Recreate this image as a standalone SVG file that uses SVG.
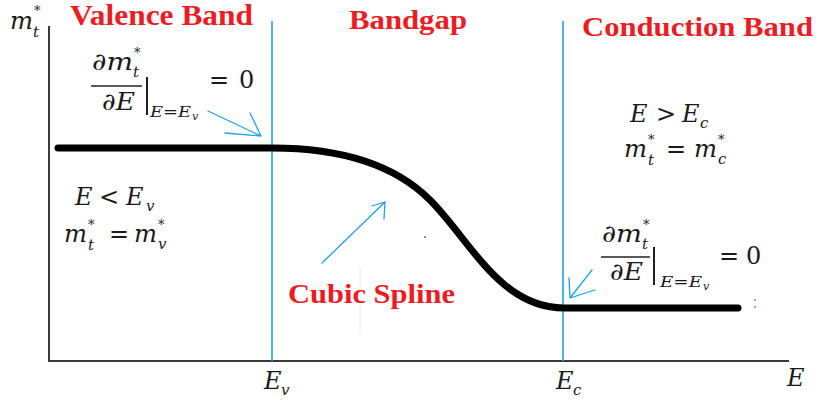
<svg xmlns="http://www.w3.org/2000/svg" width="817" height="402" viewBox="0 0 817 402">
<style>
.ax{stroke:#3a3a3a;stroke-width:2;fill:none}
.bl{stroke:#1fa3e4;stroke-width:1.6;fill:none}
.ar{stroke:#1fa3e4;stroke-width:1.3;fill:none;stroke-linecap:round}
.curve{stroke:#000;stroke-width:7;fill:none;stroke-linecap:round;stroke-linejoin:round}
.ttl{font-family:"Liberation Serif","Times New Roman",serif;font-weight:bold;fill:#ed1c24}
.mi{font-family:"DejaVu Serif",serif;font-style:italic;fill:#1a1a1a;font-size:24px}
.mu{font-family:"DejaVu Serif",serif;fill:#1a1a1a;font-size:24px}
.sb{font-size:15px}
.st{font-size:13px;font-style:normal}
.s14{font-size:14px}
.s11{font-size:11px}
.fl{stroke:#222;stroke-width:1.5}
.bar{stroke:#222;stroke-width:2}
</style>
<rect width="817" height="402" fill="#fff"/>

<g id="axes">
  <line class="ax" x1="49" y1="26" x2="49" y2="361"/>
  <line class="ax" x1="48" y1="361" x2="789" y2="361"/>
  <line x1="360" y1="267" x2="360" y2="335" stroke="#ececec" stroke-width="1"/>
</g>

<g id="boundaries">
  <line class="bl" x1="272" y1="21" x2="272" y2="361"/>
  <line class="bl" x1="563" y1="21" x2="563" y2="361"/>
</g>

<g id="curve">
  <path class="curve" d="M58,148 L272,148 C330,148 390,160 430,200 C470,240 500,308 564,308 L738,308"/>
  <circle cx="425" cy="237" r="0.8" fill="#000"/>
</g>

<g id="titles">
  <text class="ttl" x="70" y="25" font-size="29" textLength="183" lengthAdjust="spacingAndGlyphs">Valence Band</text>
  <text class="ttl" x="349" y="29" font-size="28" textLength="118" lengthAdjust="spacingAndGlyphs">Bandgap</text>
  <text class="ttl" x="582" y="36" font-size="27" textLength="231" lengthAdjust="spacingAndGlyphs">Conduction Band</text>
</g>

<g id="label-cubic-spline">
  <text class="ttl" x="288" y="303" font-size="28" textLength="167" lengthAdjust="spacingAndGlyphs">Cubic Spline</text>
</g>

<g id="y-label">
  <text class="mi" x="10" y="29" textLength="23" lengthAdjust="spacingAndGlyphs">m</text>
  <text class="mi sb" x="33" y="37">t</text>
  <text class="mi st" x="34" y="15">*</text>
</g>

<g id="x-labels">
  <text class="mi" x="264" y="389">E</text>
  <text class="mi sb" x="281" y="395">v</text>
  <text class="mi" x="556" y="389">E</text>
  <text class="mi sb" x="573" y="395">c</text>
  <text class="mi" x="787" y="386">E</text>
</g>

<g id="valence-condition">
  <text class="mi" x="75" y="205">E</text>
  <text class="mu" x="99" y="205">&lt;</text>
  <text class="mi" x="126" y="205">E</text>
  <text class="mi sb" x="146" y="211">v</text>
  <text class="mi" x="64" y="242" textLength="23" lengthAdjust="spacingAndGlyphs">m</text>
  <text class="mi sb" x="88" y="250">t</text>
  <text class="mi st" x="88" y="229">*</text>
  <text class="mu" x="109" y="242">=</text>
  <text class="mi" x="134" y="242" textLength="23" lengthAdjust="spacingAndGlyphs">m</text>
  <text class="mi st" x="158" y="229">*</text>
  <text class="mi sb" x="158" y="249">v</text>
</g>

<g id="conduction-condition">
  <text class="mi" x="630" y="122">E</text>
  <text class="mu" x="656" y="122">&gt;</text>
  <text class="mi" x="682" y="122">E</text>
  <text class="mi sb" x="700" y="128">c</text>
  <text class="mi" x="624" y="157" textLength="23" lengthAdjust="spacingAndGlyphs">m</text>
  <text class="mi sb" x="648" y="165">t</text>
  <text class="mi st" x="648" y="144">*</text>
  <text class="mu" x="666" y="157">=</text>
  <text class="mi" x="694" y="157" textLength="23" lengthAdjust="spacingAndGlyphs">m</text>
  <text class="mi st" x="718" y="144">*</text>
  <text class="mi sb" x="718" y="164">c</text>
</g>

<g id="derivative-left">
  <text class="mi" x="92" y="70" textLength="41" lengthAdjust="spacingAndGlyphs">∂m</text>
  <text class="mi sb" x="133" y="77">t</text>
  <text class="mi st" x="134" y="57">*</text>
  <line class="fl" x1="91" y1="86" x2="142" y2="86"/>
  <text class="mi" x="102" y="110" textLength="33" lengthAdjust="spacingAndGlyphs">∂E</text>
  <line class="bar" x1="147" y1="77" x2="147" y2="115"/>
  <text class="mi s14" x="150" y="117" textLength="41" lengthAdjust="spacingAndGlyphs">E=E</text>
  <text class="mi s11" x="192" y="120">v</text>
  <text class="mu" x="209" y="88">=</text>
  <text class="mu" x="239" y="88">0</text>
</g>

<g id="derivative-right">
  <text class="mi" x="602" y="242" textLength="40" lengthAdjust="spacingAndGlyphs">∂m</text>
  <text class="mi sb" x="642" y="249">t</text>
  <text class="mi st" x="643" y="229">*</text>
  <line class="fl" x1="601" y1="257" x2="650" y2="257"/>
  <text class="mi" x="610" y="280" textLength="33" lengthAdjust="spacingAndGlyphs">∂E</text>
  <line class="bar" x1="654" y1="247" x2="654" y2="285"/>
  <text class="mi s14" x="660" y="287" textLength="42" lengthAdjust="spacingAndGlyphs">E=E</text>
  <text class="mi s11" x="703" y="290">v</text>
  <text class="mu" x="719" y="264">=</text>
  <text class="mu" x="746" y="264">0</text>
</g>

<g id="connectors">
  <path class="ar" d="M208,111 L261,136 M250,113 L261,136 M225,133 L261,136"/>
  <path class="ar" d="M322,263 L385,202 M372,206 L385,202 M384,219 L385,202"/>
  <path class="ar" d="M592,270 L570,298 M569,278 L570,298 M595,290 L570,298"/>
  <circle cx="755" cy="300" r="0.9" fill="#1fa3e4"/>
  <circle cx="755" cy="307" r="0.9" fill="#1fa3e4"/>
</g>
</svg>
